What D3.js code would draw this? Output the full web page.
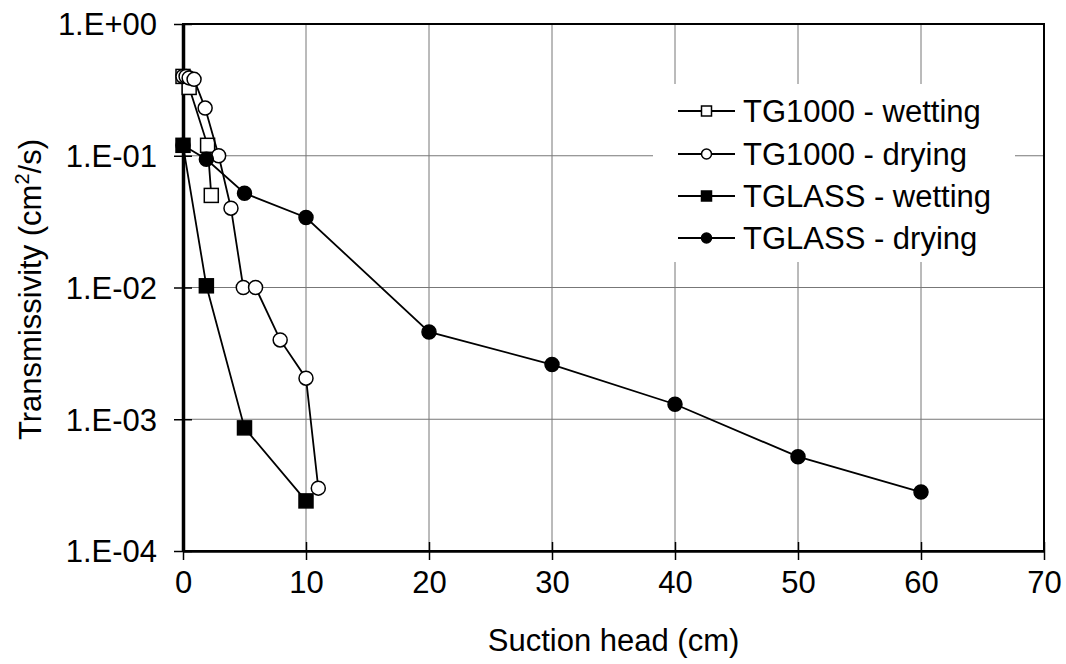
<!DOCTYPE html>
<html>
<head>
<meta charset="utf-8">
<script src="https://cdn.jsdelivr.net/npm/d3@7"></script>
<style>
  html, body { margin: 0; padding: 0; background: #fff; }
  svg text { font-family: "Liberation Sans", Arial, sans-serif; fill: #000; }
</style>
</head>
<body>
<svg id="chart" width="1066" height="664"></svg>
<script>
// Transmissivity vs. suction head for two media, wetting and drying branches
const seriesNames = ["TG1000 - wetting", "TG1000 - drying", "TGLASS - wetting", "TGLASS - drying"];

const tg1000WetX = [0, 0.5, 2, 2.3];
const tg1000WetY = [0.40, 0.33, 0.12, 0.05];

const tg1000DryX = [0, 0.25, 0.5, 0.9, 1.8, 2.9, 3.9, 4.9, 5.9, 7.9, 10, 11];
const tg1000DryY = [0.40, 0.40, 0.39, 0.38, 0.23, 0.10, 0.04, 0.010, 0.010, 0.004, 0.00205, 0.0003];

const tglassWetX = [0, 1.9, 5, 10];
const tglassWetY = [0.12, 0.0103, 0.00086, 0.00024];

const tglassDryX = [0, 1.9, 5, 10, 20, 30, 40, 50, 60];
const tglassDryY = [0.12, 0.094, 0.052, 0.034, 0.0046, 0.0026, 0.0013, 0.00052, 0.00028];

const xTicks = [0, 10, 20, 30, 40, 50, 60, 70];
const yTicks = [1, 0.1, 0.01, 0.001, 0.0001];
const yTickLabels = ["1.E+00", "1.E-01", "1.E-02", "1.E-03", "1.E-04"];

const markers = ["squareOpen", "circleOpen", "squareFilled", "circleFilled"];

const series = [
  { name: seriesNames[0], xs: tg1000WetX, ys: tg1000WetY, marker: markers[0] },
  { name: seriesNames[1], xs: tg1000DryX, ys: tg1000DryY, marker: markers[1] },
  { name: seriesNames[2], xs: tglassWetX, ys: tglassWetY, marker: markers[2] },
  { name: seriesNames[3], xs: tglassDryX, ys: tglassDryY, marker: markers[3] }
];

const FONT = 31;
const svg = d3.select("#chart");
const m = { left: 183, right: 1044, top: 24, bottom: 551 };

const x = d3.scaleLinear().domain([0, 70]).range([m.left, m.right]);
const y = d3.scaleLog().domain([1e-4, 1]).range([m.bottom, m.top]);

// grid
const grid = svg.append("g").attr("stroke", "#777").attr("stroke-width", 1);
xTicks.filter(t => t > 0 && t < 70).forEach(t => {
  grid.append("line").attr("x1", x(t)).attr("x2", x(t)).attr("y1", m.top).attr("y2", m.bottom);
});
yTicks.filter(t => t > 1e-4 && t < 1).forEach(t => {
  grid.append("line").attr("x1", m.left).attr("x2", m.right).attr("y1", y(t)).attr("y2", y(t));
});

// legend backdrop (hides the grid behind it)
svg.append("rect").attr("x", 653).attr("y", 84).attr("width", 362).attr("height", 178).attr("fill", "#fff");

// frame
svg.append("rect").attr("x", m.left).attr("y", m.top)
  .attr("width", m.right - m.left).attr("height", m.bottom - m.top)
  .attr("fill", "none").attr("stroke", "#000").attr("stroke-width", 2);

// axes
const xAxis = d3.axisBottom(x).tickValues(xTicks).tickSize(0).tickPadding(0).tickFormat(d3.format("d"));
const xg = svg.append("g").attr("transform", `translate(0,${m.bottom})`).call(xAxis);
xg.select(".domain").attr("stroke", "#000").attr("stroke-width", 2.5);
xg.selectAll(".tick line").remove();
xg.selectAll(".tick").append("line").attr("y1", -9).attr("y2", 9).attr("stroke", "#000").attr("stroke-width", 1.5);
xg.selectAll(".tick text").attr("y", 42).attr("dy", 0).attr("font-size", FONT);

const yAxis = d3.axisLeft(y).tickValues(yTicks).tickSize(0).tickPadding(0)
  .tickFormat((d, i) => yTickLabels[i]);
const yg = svg.append("g").attr("transform", `translate(${m.left},0)`).call(yAxis);
yg.select(".domain").attr("stroke", "#000").attr("stroke-width", 3.5);
yg.selectAll(".tick line").remove();
yg.selectAll(".tick").append("line").attr("x1", -9).attr("x2", 9).attr("stroke", "#000").attr("stroke-width", 1.5);
yg.selectAll(".tick text").attr("x", -26).attr("dy", "0.35em").attr("font-size", FONT);
svg.selectAll(".domain").attr("fill", "none");

// axis titles
svg.append("text").attr("x", (m.left + m.right) / 2).attr("y", 651)
  .attr("text-anchor", "middle").attr("font-size", FONT).text("Suction head (cm)");

const yTitle = svg.append("text").attr("transform", `translate(41,${(m.top + m.bottom) / 2 + 2}) rotate(-90)`)
  .attr("text-anchor", "middle").attr("font-size", FONT);
yTitle.append("tspan").text("Transmissivity (cm");
yTitle.append("tspan").attr("font-size", 20).attr("dy", -12).text("2");
yTitle.append("tspan").attr("dy", 12).text("/s)");

// marker painter
function drawMarker(g, kind, cx, cy, size) {
  const h = size / 2;
  if (kind.startsWith("square")) {
    g.append("rect").attr("x", cx - h).attr("y", cy - h).attr("width", size).attr("height", size)
      .attr("fill", kind.endsWith("Filled") ? "#000" : "#fff").attr("stroke", "#000").attr("stroke-width", 1.5);
  } else {
    g.append("circle").attr("cx", cx).attr("cy", cy).attr("r", h)
      .attr("fill", kind.endsWith("Filled") ? "#000" : "#fff").attr("stroke", "#000").attr("stroke-width", 1.5);
  }
}

const line = d3.line().x(d => x(d[0])).y(d => y(d[1]));

series.forEach(s => {
  const pts = s.xs.map((v, i) => [v, s.ys[i]]);
  const g = svg.append("g");
  g.append("path").datum(pts).attr("d", line).attr("fill", "none").attr("stroke", "#000").attr("stroke-width", 1.8);
  pts.forEach(p => drawMarker(g, s.marker, x(p[0]), y(p[1]), 14));
});

// legend
const legendRowY = [111, 154, 196, 238];
series.forEach((s, i) => {
  const g = svg.append("g");
  const ly = legendRowY[i];
  g.append("line").attr("x1", 678).attr("x2", 735).attr("y1", ly).attr("y2", ly).attr("stroke", "#000").attr("stroke-width", 1.8);
  drawMarker(g, s.marker, 706.5, ly, 10);
  g.append("text").attr("x", 743).attr("y", ly).attr("dy", "0.35em").attr("font-size", FONT).text(s.name);
});
</script>
</body>
</html>
